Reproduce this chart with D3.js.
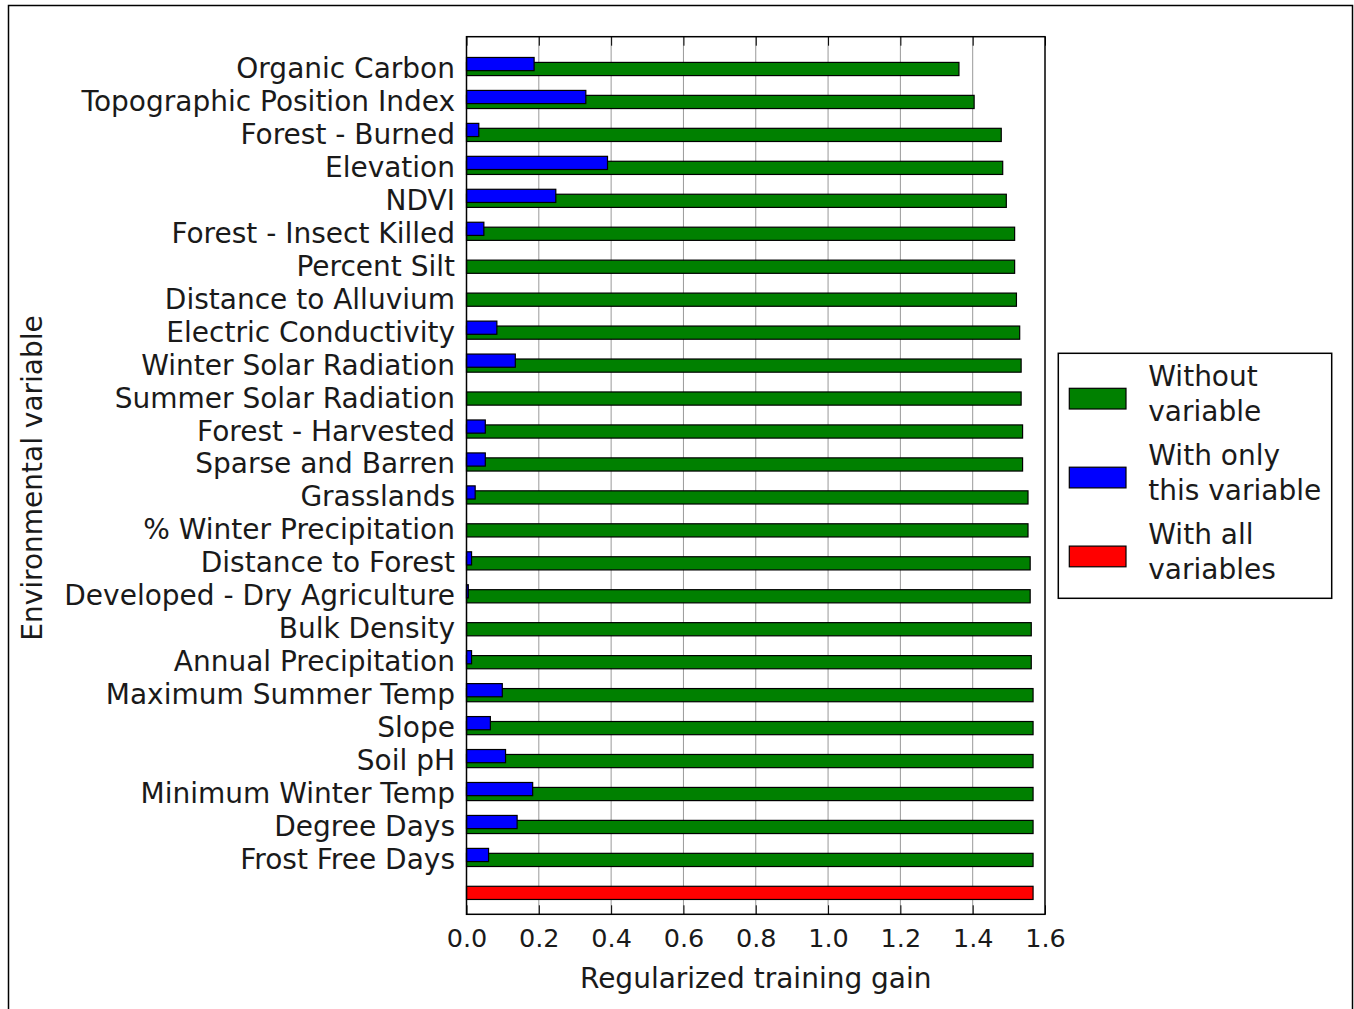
<!DOCTYPE html>
<html>
<head>
<meta charset="utf-8">
<script src="https://cdn.jsdelivr.net/npm/d3@7"></script>
<style>
  body { margin: 0; background: #fff; }
  text { font-family: "DejaVu Sans", sans-serif; fill: #1a1a1a; }
</style>
</head>
<body>
<script>
// variables, top to bottom
var variables = [
  "Organic Carbon", "Topographic Position Index", "Forest - Burned", "Elevation",
  "NDVI", "Forest - Insect Killed", "Percent Silt", "Distance to Alluvium",
  "Electric Conductivity", "Winter Solar Radiation", "Summer Solar Radiation",
  "Forest - Harvested", "Sparse and Barren", "Grasslands", "% Winter Precipitation",
  "Distance to Forest", "Developed - Dry Agriculture", "Bulk Density",
  "Annual Precipitation", "Maximum Summer Temp", "Slope", "Soil pH",
  "Minimum Winter Temp", "Degree Days", "Frost Free Days"
];

// gain without the variable (green)
var withoutVals = [
  1.362, 1.404, 1.479, 1.483, 1.493, 1.516, 1.516, 1.521, 1.530, 1.534,
  1.534, 1.538, 1.538, 1.553, 1.553, 1.559, 1.559, 1.562, 1.562, 1.567,
  1.567, 1.567, 1.567, 1.567, 1.567
];

// gain with only this variable (blue)
var onlyVals = [
  0.187, 0.330, 0.034, 0.390, 0.247, 0.048, 0.0, 0.0, 0.084, 0.135,
  0.0, 0.052, 0.052, 0.024, 0.0, 0.014, 0.005, 0.0, 0.014, 0.099,
  0.066, 0.108, 0.183, 0.140, 0.061
];

// gain with all variables (red)
var allVal = 1.567;

var xTicks = [0, 0.2, 0.4, 0.6, 0.8, 1.0, 1.2, 1.4, 1.6];

var legendItems = [
  { lines: ["Without", "variable"], color: "#008000" },
  { lines: ["With only", "this variable"], color: "#0000ff" },
  { lines: ["With all", "variables"], color: "#ff0000" }
];

var W = 1354, H = 1009;
var plotLeft = 466.5, plotRight = 1045, plotTop = 36.7, plotBottom = 914.3;
var fs = 28;

var svg = d3.select("body").append("svg")
  .attr("width", W)
  .attr("height", H);

// outer frame
svg.append("rect")
  .attr("x", 8.5).attr("y", 5.5)
  .attr("width", 1344).attr("height", H + 20)
  .attr("fill", "none").attr("stroke", "#000").attr("stroke-width", 1.5);

var x = d3.scaleLinear().domain([0, 1.6]).range([plotLeft, plotRight]);
var y = d3.scaleLinear().domain([-0.98, 25.65]).range([plotTop, plotBottom]);
var bh = 0.4;

// grid
svg.append("g").selectAll("line")
  .data(xTicks.slice(1, -1)).enter()
  .append("line")
  .attr("x1", d => x(d)).attr("x2", d => x(d))
  .attr("y1", plotTop).attr("y2", plotBottom)
  .attr("stroke", "#999").attr("stroke-width", 1);

var bars = svg.append("g").attr("stroke", "#000").attr("stroke-width", 1.2);

bars.selectAll("rect.without")
  .data(withoutVals).enter()
  .append("rect")
  .attr("class", "without")
  .attr("x", x(0))
  .attr("y", (d, i) => y(i - bh / 2))
  .attr("width", d => x(d) - x(0))
  .attr("height", y(bh) - y(0))
  .attr("fill", "#008000");

bars.selectAll("rect.only")
  .data(onlyVals).enter()
  .append("rect")
  .attr("class", "only")
  .attr("x", x(0))
  .attr("y", (d, i) => y(i - 0.15 - bh / 2))
  .attr("width", d => x(d) - x(0))
  .attr("height", y(bh) - y(0))
  .attr("fill", "#0000ff")
  .attr("display", d => d > 0 ? null : "none");

bars.append("rect")
  .attr("x", x(0))
  .attr("y", y(variables.length - bh / 2))
  .attr("width", x(allVal) - x(0))
  .attr("height", y(bh) - y(0))
  .attr("fill", "#ff0000");

// axes frame
svg.append("rect")
  .attr("x", plotLeft).attr("y", plotTop)
  .attr("width", plotRight - plotLeft).attr("height", plotBottom - plotTop)
  .attr("fill", "none").attr("stroke", "#000").attr("stroke-width", 1.5);

var xAxis = d3.axisBottom(x)
  .tickValues(xTicks)
  .tickFormat(d3.format(".1f"))
  .tickSize(-9)
  .tickPadding(14.5);

var gx = svg.append("g")
  .attr("transform", "translate(0," + plotBottom + ")")
  .call(xAxis);
gx.select(".domain").remove();
gx.selectAll("line").attr("stroke", "#000");
gx.selectAll("text")
  .style("font-family", "DejaVu Sans")
  .style("font-size", "25.5px")
  .attr("fill", "#1a1a1a");

var gxTop = svg.append("g")
  .attr("transform", "translate(0," + plotTop + ")")
  .call(d3.axisTop(x).tickValues(xTicks).tickSize(-9).tickFormat(""));
gxTop.select(".domain").remove();
gxTop.selectAll("line").attr("stroke", "#000");

// y tick labels
svg.append("g").selectAll("text")
  .data(variables).enter()
  .append("text")
  .attr("x", 455)
  .attr("y", (d, i) => y(i) + 9)
  .attr("text-anchor", "end")
  .style("font-size", fs + "px")
  .text(d => d);

// axis titles
svg.append("text")
  .attr("x", (plotLeft + plotRight) / 2)
  .attr("y", 988)
  .attr("text-anchor", "middle")
  .style("font-size", fs + "px")
  .text("Regularized training gain");

svg.append("text")
  .attr("transform", "translate(42,478) rotate(-90)")
  .attr("text-anchor", "middle")
  .style("font-size", fs + "px")
  .text("Environmental variable");

// legend
var lg = svg.append("g");
lg.append("rect")
  .attr("x", 1058.3).attr("y", 353.3)
  .attr("width", 273.4).attr("height", 245)
  .attr("fill", "#fff").attr("stroke", "#000").attr("stroke-width", 1.5);

var entries = lg.selectAll("g.entry")
  .data(legendItems).enter()
  .append("g")
  .attr("class", "entry");

entries.append("rect")
  .attr("x", 1069.3)
  .attr("y", (d, i) => 388.3 + i * 78.9)
  .attr("width", 56.7).attr("height", 20.7)
  .attr("fill", d => d.color)
  .attr("stroke", "#000").attr("stroke-width", 1.2);

entries.each(function(d, i) {
  d3.select(this).selectAll("text")
    .data(d.lines).enter()
    .append("text")
    .attr("x", 1148.3)
    .attr("y", (t, j) => 385.7 + i * 79.2 + j * 35.3)
    .style("font-size", fs + "px")
    .text(t => t);
});
</script>
</body>
</html>
